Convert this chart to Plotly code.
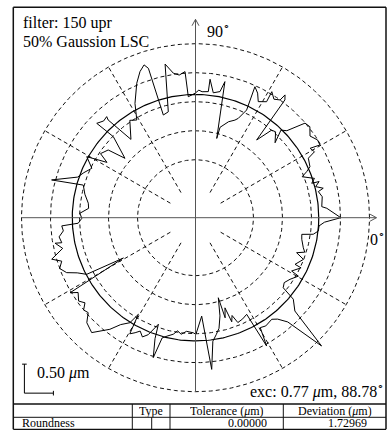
import numpy as np
import plotly.graph_objects as go

# ---------------- data ----------------
# polar grid (radius in ring units; one ring step = 0.50 um)
ring_radii = [2, 3, 4, 5, 6]
spoke_angles = [30, 60, 120, 150, 210, 240, 300, 330]
spoke_inner, spoke_outer = 1, 6
lsc_radius = 4.25
scale_bar_len = 1.0  # = 0.50 um
axis_x_end, axis_y_end = 6.24, 6.84

# measured roundness profile (angle in deg, radius in ring units)
profile_angle = [
    0, 4.1, 5, 9.4, 12, 13, 14.5, 16.3, 16.5, 18.3, 21, 22.5, 24, 27.8, 29, 31.2, 30.3, 32.5,
    35.5, 38.5, 40.8, 42.3, 43.6, 45.7, 43.3, 47, 49, 51.8, 52.8, 53.9, 54.3, 56.5, 58.8, 58.5,
    60, 61.6, 63.5, 65.6, 64.6, 66.7, 68, 71, 74.8, 75, 77.8, 79, 81.9, 84, 84.2, 87, 88.5, 90.2,
    93.4, 94.1, 96.5, 98.7, 101.2, 104.4, 107.4, 107.5, 108.6, 110.8, 113.6, 117.9, 121, 124,
    129.5, 131.8, 131.3, 133.5, 136.3, 135.4, 139.9, 142.2, 146, 148, 150.7, 154.5, 158, 161,
    165.3, 163.8, 168, 172.3, 175, 177.8, 180.3,
    182.7, 183.5, 185.7, 188, 190.6, 190.3, 193, 196.1, 198, 200.5, 203.1, 205, 207.5, 209.2,
    210.9, 212.5, 213.7, 215.5, 217.6, 219.5, 221.5, 224, 227.9, 230, 232.5, 235, 238, 239.4,
    240.5, 242.3, 244, 246, 248, 250.8, 251.5, 253.2, 254.5, 256.5, 259.2, 261, 263, 265.5, 268.9,
    270.2, 273.6, 276.1, 278, 280, 282, 284, 285.9, 286.5, 288.1, 289.2, 290.5, 292, 295, 297.9,
    299, 300.5, 303, 306.9, 309, 311.5, 314.5, 316.8, 320.2, 321.4, 323.8, 326.9, 330.4, 331,
    334.6, 334.9, 338.9, 340.9, 342.5, 344.4, 346.5, 348.5, 351.1, 352, 353.8, 356.2, 358, 360,
]
profile_radius = [
    5.01, 4.54, 4.37, 4.43, 4.33, 4.52, 4.28, 4.44, 4.18, 4.32, 3.94, 4.15, 4.32, 4.40, 4.69, 4.62, 4.97, 4.99,
    4.85, 5.04, 4.99, 4.63, 4.35, 4.22, 3.77, 4.05, 4.00, 3.41, 5.10, 5.24, 5.00, 4.90, 5.08, 4.69,
    4.62, 4.55, 4.80, 4.96, 4.11, 3.73, 3.63, 3.50, 3.23, 2.83, 4.80, 4.43, 4.35, 4.80, 4.37, 4.35, 4.40, 4.29,
    4.18, 5.05, 4.95, 5.04, 5.40, 3.77, 3.71, 5.40, 5.56, 5.39, 5.06, 4.46, 3.93, 4.05,
    3.50, 4.52, 4.64, 4.60, 4.71, 3.98, 3.18, 3.81, 3.95, 3.60, 4.30, 3.96, 4.15, 4.30,
    5.13, 4.03, 3.90, 3.73, 3.70, 3.99, 3.92,
    4.05, 4.62, 4.58, 4.75, 4.69, 4.92, 4.70, 5.16, 4.85, 5.00, 4.83, 4.50, 4.23, 2.85,
    5.04, 4.80, 4.86, 4.95, 4.81, 5.00, 4.94, 5.21, 5.34, 5.10, 4.85, 4.50, 4.27, 3.87,
    4.60, 4.48, 4.35, 4.50, 4.35, 3.89, 4.40, 5.04, 4.30, 4.20, 4.09, 3.95, 4.05, 3.93, 3.97,
    4.02, 3.40, 5.26, 4.30, 4.10, 3.90, 3.49, 2.87, 3.60, 3.27, 3.80, 3.60, 3.90, 3.85, 3.77,
    5.06, 4.40, 4.45, 4.38, 4.50, 4.80, 6.20, 4.70, 4.39, 3.87, 3.79, 3.89, 4.08, 3.79,
    4.03, 3.79, 3.99, 3.69, 3.95, 3.86, 3.80, 3.74, 3.71, 4.10, 4.26, 4.27, 4.45, 5.01,
]

header_cells = ["Type", "Tolerance (<i>μ</i>m)", "Deviation (<i>μ</i>m)"]
row_name = "Roundness"
tolerance_value = "0.00000"
deviation_value = "1.72969"
filter_text = ["filter: 150 upr", "50% Gaussion LSC"]
exc_text = "exc: 0.77 <i>μ</i>m, 88.78<sup>∘</sup>"
scale_text = "0.50 <i>μ</i>m"

# ---------------- layout geometry ----------------
W, H = 387, 430
CX, CY = 195.5, 217.7   # pixel centre of the polar chart
U = 29.0                 # pixels per ring step
FONT = "Liberation Serif"
DASH = "4px,3px"


def pxx(x):
    return x / W


def pxy(y):
    return 1 - y / H


fig = go.Figure()

t = np.linspace(0, 2 * np.pi, 361)
for r in ring_radii:
    fig.add_trace(go.Scatter(x=r * np.cos(t), y=r * np.sin(t), mode="lines",
                             line=dict(color="#111", width=1, dash=DASH), hoverinfo="skip"))
for a in spoke_angles:
    ar = np.deg2rad(a)
    fig.add_trace(go.Scatter(x=[spoke_inner * np.cos(ar), spoke_outer * np.cos(ar)],
                             y=[spoke_inner * np.sin(ar), spoke_outer * np.sin(ar)], mode="lines",
                             line=dict(color="#111", width=1, dash=DASH), hoverinfo="skip"))
# least squares reference circle
fig.add_trace(go.Scatter(x=lsc_radius * np.cos(t), y=lsc_radius * np.sin(t), mode="lines",
                         line=dict(color="#000", width=1.2), hoverinfo="skip"))
# profile
pa = np.deg2rad(np.array(profile_angle))
pr = np.array(profile_radius)
fig.add_trace(go.Scatter(x=pr * np.cos(pa), y=pr * np.sin(pa), mode="lines",
                         line=dict(color="#000", width=1), hoverinfo="skip"))

# scale bar (L shape, 1 ring step = 0.50 um)
sbx, sby = -5.9, -6.05
s = 0.08
fig.add_trace(go.Scatter(
    x=[sbx - s, sbx + s, None, sbx, sbx, sbx + scale_bar_len, None,
       sbx + scale_bar_len, sbx + scale_bar_len],
    y=[sby + scale_bar_len, sby + scale_bar_len, None, sby + scale_bar_len, sby, sby, None,
       sby + s, sby - s],
    mode="lines", line=dict(color="#000", width=1), hoverinfo="skip"))

# axis lines with open arrow heads
hl, hw = 0.22, 0.12
fig.add_trace(go.Scatter(
    x=[-6.0, axis_x_end, None, axis_x_end - hl, axis_x_end, axis_x_end - hl, None,
       0, 0, None, -hw, 0, hw],
    y=[0, 0, None, hw, 0, -hw, None,
       -6.0, axis_y_end, None, axis_y_end - hl, axis_y_end, axis_y_end - hl],
    mode="lines", line=dict(color="#555", width=1), hoverinfo="skip"))

annotations = []


def txt(text, x, y, size=16, xanchor="left", yanchor="middle", height=None):
    annotations.append(dict(text=text, x=pxx(x), y=pxy(y), xref="paper", yref="paper",
                            xanchor=xanchor, yanchor=yanchor, showarrow=False, borderpad=0,
                            height=height,
                            font=dict(family=FONT, size=size, color="#000")))


txt(filter_text[0], 22, 23)
txt(filter_text[1], 22, 41)
txt("90<sup>∘</sup>", 206, 30)
txt("0<sup>∘</sup>", 369, 238)
txt(scale_text, 36, 373)
txt(exc_text, 385, 390, size=16, xanchor="right")

# table text
txt(header_cells[0], 151, 410.7, size=12, xanchor="center", height=13)
txt(header_cells[1], 226.5, 410.7, size=12, xanchor="center", height=13)
txt(header_cells[2], 335, 410.7, size=12, xanchor="center", height=13)
txt(row_name, 21, 423.3, size=12, height=12)
txt(tolerance_value, 268, 423.3, size=12, xanchor="right", height=12)
txt(deviation_value, 368, 423.3, size=12, xanchor="right", height=12)

# frame and table lines
shapes = []


def seg(x0, y0, x1, y1, w=1):
    shapes.append(dict(type="line", xref="paper", yref="paper", x0=pxx(x0), y0=pxy(y0),
                       x1=pxx(x1), y1=pxy(y1), line=dict(color="#111", width=w)))


seg(13.3, 7.3, 386, 7.3, 1.6)
seg(13.3, 7.3, 13.3, 429.3, 1.5)
seg(386, 7.3, 386, 429.3, 1.5)
seg(13.3, 429.3, 386, 429.3, 1.3)
seg(13.3, 404, 386, 404, 1.5)
seg(13.3, 417.3, 386, 417.3, 1)
for xv in [132.3, 170, 283.3]:
    seg(xv, 404, xv, 429.3, 1)
seg(151.7, 417.3, 151.7, 429.3, 1)

fig.update_layout(
    width=W, height=H, margin=dict(l=0, r=0, t=0, b=0),
    paper_bgcolor="white", plot_bgcolor="white", showlegend=False,
    xaxis=dict(range=[-CX / U, (W - CX) / U], visible=False, fixedrange=True),
    yaxis=dict(range=[-(H - CY) / U, CY / U], visible=False, fixedrange=True),
    annotations=annotations, shapes=shapes,
)

fig.write_html("out.html", config={"displayModeBar": False},
               post_script="document.body.style.margin='0';document.body.style.overflow='hidden';")
